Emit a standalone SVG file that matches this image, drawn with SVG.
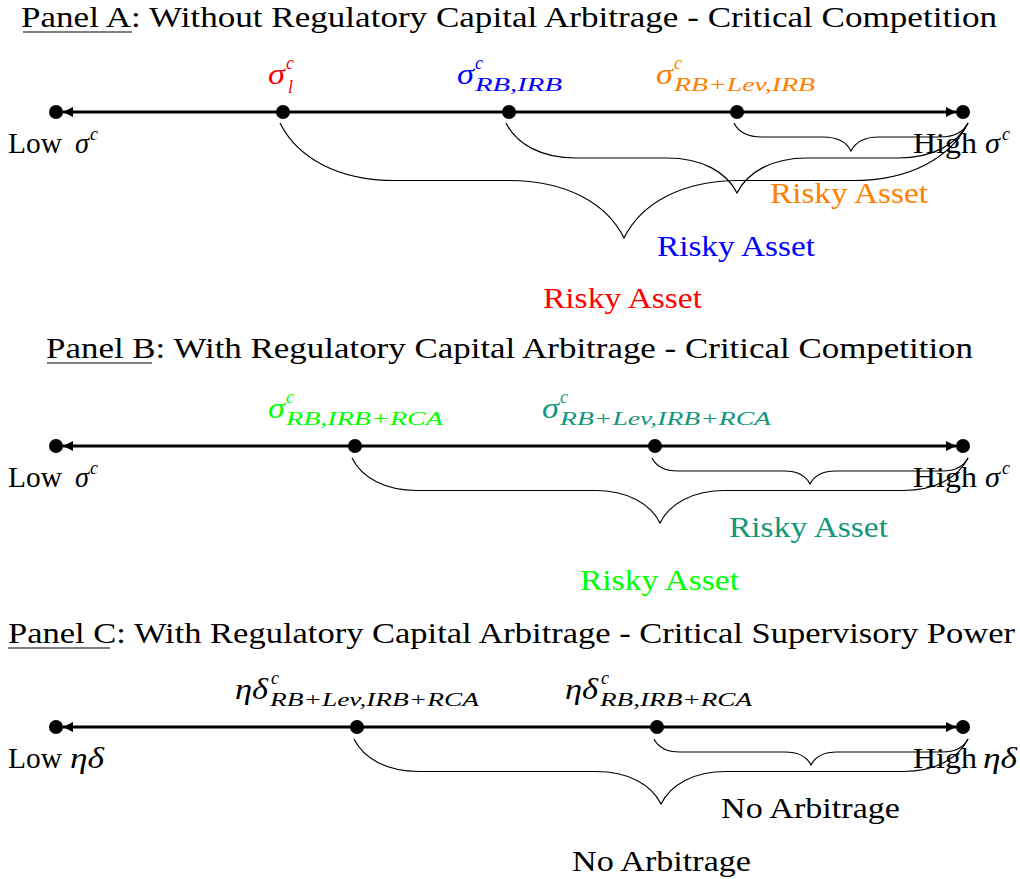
<svg xmlns="http://www.w3.org/2000/svg" width="1020" height="879" viewBox="0 0 1020 879">
<style>
text { font-family: 'Liberation Serif', 'Times New Roman', Times, serif; font-size: 30px; fill: #000; }
.m { font-style: italic; }
.s { font-size: 18px; font-style: italic; }
.axis { stroke: #000; stroke-width: 3; fill: none; marker-start: url(#ah); marker-end: url(#ah); }
.brace { stroke: #000; stroke-width: 1.2; fill: none; }
.ul { stroke: #000; stroke-width: 1.2; }
.dot { fill: #000; }
.red { fill: #ff0000; }
.blue { fill: #0000ff; }
.orange { fill: #ff8000; }
.green { fill: #00ff00; }
.teal { fill: #13977a; }
</style>
<defs>
<marker id="ah" viewBox="0 0 10 10" refX="10" refY="5" markerWidth="10" markerHeight="11" markerUnits="userSpaceOnUse" orient="auto-start-reverse">
<path d="M0,0 L10,5 L0,10 Z" fill="#000"/>
</marker>
</defs>

<!-- Titles -->
<g id="title-a">
<text x="21" y="27" textLength="976" lengthAdjust="spacingAndGlyphs">Panel A: Without Regulatory Capital Arbitrage - Critical Competition</text>
<line class="ul" x1="23" y1="32" x2="132" y2="32"/>
</g>
<g id="title-b">
<text x="46" y="358" textLength="927" lengthAdjust="spacingAndGlyphs">Panel B: With Regulatory Capital Arbitrage - Critical Competition</text>
<line class="ul" x1="47" y1="363" x2="152" y2="363"/>
</g>
<g id="title-c">
<text x="8" y="643" textLength="1007" lengthAdjust="spacingAndGlyphs">Panel C: With Regulatory Capital Arbitrage - Critical Supervisory Power</text>
<line class="ul" x1="8" y1="648" x2="110" y2="648"/>
</g>

<!-- Connectors -->
<g id="connectors">
<line class="axis" x1="63" y1="112" x2="956" y2="112"/>
<line class="axis" x1="63" y1="446" x2="956" y2="446"/>
<line class="axis" x1="63" y1="727" x2="956" y2="727"/>
<path class="brace" d="M280,123 C297.25,157.5 337.5,180.5 395,180.5 L509,180.5 C566.5,180.5 606.75,203.5 624,238 C641.25,203.5 681.5,180.5 739,180.5 L853,180.5 C910.5,180.5 950.75,157.5 968,123"/>
<path class="brace" d="M506,123 C516.5,144 541,158 576,158 L667,158 C702,158 726.5,172 737,193 C747.5,172 772,158 807,158 L898,158 C933,158 957.5,144 968,123"/>
<path class="brace" d="M734,123 C738.2,131.4 748,137 762,137 L823,137 C837,137 846.8,142.6 851,151 C855.2,142.6 865,137 879,137 L940,137 C954,137 963.8,131.4 968,123"/>
<path class="brace" d="M352,458 C361.75,477.5 384.5,490.5 417,490.5 L595,490.5 C627.5,490.5 650.25,503.5 660,523 C669.75,503.5 692.5,490.5 725,490.5 L903,490.5 C935.5,490.5 958.25,477.5 968,458"/>
<path class="brace" d="M652,458 C655.9,465.8 665,471 678,471 L784,471 C797,471 806.1,476.2 810,484 C813.9,476.2 823,471 836,471 L942,471 C955,471 964.1,465.8 968,458"/>
<path class="brace" d="M354,739 C363.75,758.5 386.5,771.5 419,771.5 L596,771.5 C628.5,771.5 651.25,784.5 661,804 C670.75,784.5 693.5,771.5 726,771.5 L903,771.5 C935.5,771.5 958.25,758.5 968,739"/>
<path class="brace" d="M654,739 C657.9,746.8 667,752 680,752 L785,752 C798,752 807.1,757.2 811,765 C814.9,757.2 824,752 837,752 L942,752 C955,752 964.1,746.8 968,739"/>
</g>

<!-- Panel A nodes -->
<g id="a-low">
<circle class="dot" cx="56" cy="112" r="7"/>
<text x="8" y="153" textLength="54" lengthAdjust="spacingAndGlyphs">Low</text>
<text class="m" x="75" y="153" textLength="14" lengthAdjust="spacingAndGlyphs">σ</text>
<text class="s" x="90" y="140">c</text>
</g>
<g id="a-sigma-l">
<circle class="dot" cx="283" cy="112" r="7"/>
<text class="m red" x="268" y="84" textLength="17" lengthAdjust="spacingAndGlyphs">σ</text>
<text class="s red" x="286" y="69">c</text>
<text class="s red" x="288" y="93">l</text>
</g>
<g id="a-sigma-rb-irb">
<circle class="dot" cx="509" cy="112" r="7"/>
<text class="m blue" x="457" y="84" textLength="17" lengthAdjust="spacingAndGlyphs">σ</text>
<text class="s blue" x="475" y="69">c</text>
<text class="s blue" x="475" y="91" textLength="87" lengthAdjust="spacingAndGlyphs">RB,IRB</text>
</g>
<g id="a-sigma-rblev-irb">
<circle class="dot" cx="737" cy="112" r="7"/>
<text class="m orange" x="656" y="84" textLength="17" lengthAdjust="spacingAndGlyphs">σ</text>
<text class="s orange" x="674" y="69">c</text>
<text class="s orange" x="674" y="91" textLength="141" lengthAdjust="spacingAndGlyphs">RB+Lev,IRB</text>
</g>
<g id="a-high">
<circle class="dot" cx="963" cy="112" r="7"/>
<text x="913" y="153" textLength="64" lengthAdjust="spacingAndGlyphs">High</text>
<text class="m" x="985" y="153" textLength="15" lengthAdjust="spacingAndGlyphs">σ</text>
<text class="s" x="1002" y="140">c</text>
</g>
<g id="a-labels">
<text class="orange" x="770" y="203" textLength="158" lengthAdjust="spacingAndGlyphs">Risky Asset</text>
<text class="blue" x="657" y="256" textLength="158" lengthAdjust="spacingAndGlyphs">Risky Asset</text>
<text class="red" x="543" y="308" textLength="159" lengthAdjust="spacingAndGlyphs">Risky Asset</text>
</g>

<!-- Panel B nodes -->
<g id="b-low">
<circle class="dot" cx="56" cy="446" r="7"/>
<text x="8" y="487" textLength="54" lengthAdjust="spacingAndGlyphs">Low</text>
<text class="m" x="75" y="487" textLength="14" lengthAdjust="spacingAndGlyphs">σ</text>
<text class="s" x="90" y="474">c</text>
</g>
<g id="b-sigma-rb-irb-rca">
<circle class="dot" cx="355" cy="446" r="7"/>
<text class="m green" x="268" y="418" textLength="17" lengthAdjust="spacingAndGlyphs">σ</text>
<text class="s green" x="286" y="403">c</text>
<text class="s green" x="286" y="425" textLength="157" lengthAdjust="spacingAndGlyphs">RB,IRB+RCA</text>
</g>
<g id="b-sigma-rblev-irb-rca">
<circle class="dot" cx="655" cy="446" r="7"/>
<text class="m teal" x="542" y="418" textLength="17" lengthAdjust="spacingAndGlyphs">σ</text>
<text class="s teal" x="560" y="403">c</text>
<text class="s teal" x="560" y="425" textLength="211" lengthAdjust="spacingAndGlyphs">RB+Lev,IRB+RCA</text>
</g>
<g id="b-high">
<circle class="dot" cx="963" cy="446" r="7"/>
<text x="913" y="487" textLength="64" lengthAdjust="spacingAndGlyphs">High</text>
<text class="m" x="985" y="487" textLength="15" lengthAdjust="spacingAndGlyphs">σ</text>
<text class="s" x="1002" y="474">c</text>
</g>
<g id="b-labels">
<text class="teal" x="729" y="537" textLength="159" lengthAdjust="spacingAndGlyphs">Risky Asset</text>
<text class="green" x="580" y="590" textLength="159" lengthAdjust="spacingAndGlyphs">Risky Asset</text>
</g>

<!-- Panel C nodes -->
<g id="c-low">
<circle class="dot" cx="56" cy="727" r="7"/>
<text x="8" y="768" textLength="54" lengthAdjust="spacingAndGlyphs">Low</text>
<text class="m" x="70" y="768" textLength="34" lengthAdjust="spacingAndGlyphs">ηδ</text>
</g>
<g id="c-eta-rblev">
<circle class="dot" cx="357" cy="727" r="7"/>
<text class="m" x="235" y="699" textLength="33" lengthAdjust="spacingAndGlyphs">ηδ</text>
<text class="s" x="271" y="684">c</text>
<text class="s" x="270" y="706" textLength="209" lengthAdjust="spacingAndGlyphs">RB+Lev,IRB+RCA</text>
</g>
<g id="c-eta-rb">
<circle class="dot" cx="657" cy="727" r="7"/>
<text class="m" x="565" y="699" textLength="33" lengthAdjust="spacingAndGlyphs">ηδ</text>
<text class="s" x="601" y="684">c</text>
<text class="s" x="600" y="706" textLength="152" lengthAdjust="spacingAndGlyphs">RB,IRB+RCA</text>
</g>
<g id="c-high">
<circle class="dot" cx="963" cy="727" r="7"/>
<text x="913" y="768" textLength="64" lengthAdjust="spacingAndGlyphs">High</text>
<text class="m" x="983" y="768" textLength="34" lengthAdjust="spacingAndGlyphs">ηδ</text>
</g>
<g id="c-labels">
<text x="721" y="818" textLength="179" lengthAdjust="spacingAndGlyphs">No Arbitrage</text>
<text x="572" y="871" textLength="179" lengthAdjust="spacingAndGlyphs">No Arbitrage</text>
</g>
</svg>
